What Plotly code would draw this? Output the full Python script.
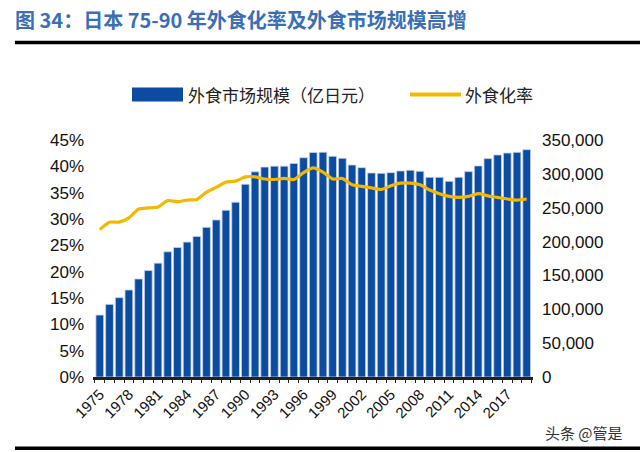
import plotly.graph_objects as go

years = list(range(1975, 2020))
market_size = [91500, 107300, 117200, 128500, 144800, 157200, 168100, 184900, 191300, 199200,
               207600, 221000, 231900, 246200, 258100, 284700, 303000, 310000, 311400, 311400,
               315400, 323800, 331500, 332000, 325900, 323000, 313100, 309200, 301300, 300800,
               301800, 304300, 305300, 303800, 294900, 294900, 289000, 294900, 303300, 311700,
               322500, 327900, 330800, 331800, 335700]
eating_out_rate = [28.0, 29.4, 29.4, 30.2, 31.9, 32.1, 32.3, 33.5, 33.3, 33.6,
                   33.7, 35.1, 36.0, 37.0, 37.2, 38.0, 38.0, 37.6, 37.5, 37.7,
                   37.5, 38.8, 39.7, 38.9, 37.6, 37.7, 36.5, 36.2, 35.9, 35.6,
                   36.3, 36.8, 36.8, 36.5, 35.5, 34.8, 34.3, 34.1, 34.3, 34.8,
                   34.4, 34.1, 33.8, 33.6, 33.8]
tick_years = list(range(1975, 2020, 3))
title_text = "图 34：日本 75-90 年外食化率及外食市场规模高增"
bar_name = "外食市场规模（亿日元）"
line_name = "外食化率"
watermark = "头条 @管是"

BLUE = "#0B4CA1"
GOLD = "#F5B800"

# plot area geometry in px
L, R, T, B = 93, 533, 139.5, 376.7
W, H = 640, 452
pw, ph = R - L, B - T

def px(x):
    return (x - L) / pw

def py(y):
    return (B - y) / ph

fig = go.Figure()
fig.add_trace(go.Bar(x=years, y=market_size, name=bar_name, yaxis="y",
                     marker=dict(color=BLUE, line=dict(color="#C9D6EA", width=0.8)),
                     showlegend=False))
fig.add_trace(go.Scatter(x=years, y=eating_out_rate, name=line_name, yaxis="y2",
                         mode="lines", line=dict(color=GOLD, width=3.2, shape="spline", smoothing=0.6),
                         showlegend=False))

tickfont = dict(family="Liberation Sans, Arial", size=17, color="#111")

fig.update_layout(
    width=W, height=H,
    margin=dict(l=L, r=W - R, t=T, b=H - B),
    paper_bgcolor="white", plot_bgcolor="white",
    bargap=0.2,
    xaxis=dict(range=[1974.3, 2019.65], tickmode="array", tickvals=tick_years,
               ticktext=[str(y) for y in tick_years], tickangle=-45,
               tickfont=dict(family="Liberation Sans, Arial", size=15, color="#111"),
               showgrid=False, showline=True, linecolor="#222", linewidth=2.5,
               ticks="", zeroline=False,
               minor=dict(tickmode="array", tickvals=[y + 0.5 for y in range(1974, 2020)],
                          ticks="outside", ticklen=3, tickcolor="#222", tickwidth=1)),
    yaxis=dict(range=[0, 350000], dtick=50000, tickformat=",", tickfont=tickfont,
               side="right", showgrid=False, zeroline=False,
               showline=False, ticks="", ticklabelstandoff=8),
    yaxis2=dict(range=[0, 45], dtick=5, ticksuffix="%", tickfont=tickfont,
                overlaying="y", side="left",
                showgrid=False, zeroline=False, showline=False, ticks="",
                ticklabelstandoff=8),
    title=dict(text="<b>" + title_text + "</b>", xref="container", yref="container",
               x=15 / W, y=1 - 21 / H, xanchor="left", yanchor="middle",
               font=dict(family="Noto Sans CJK SC, Liberation Sans", size=20, color="#3A6FB6")),
    shapes=[
        dict(type="line", xref="paper", yref="paper", x0=px(15), x1=px(640), y0=py(42), y1=py(42),
             line=dict(color="black", width=3.5)),
        dict(type="line", xref="paper", yref="paper", x0=px(15), x1=px(640), y0=py(448), y1=py(448),
             line=dict(color="black", width=3.5)),
        dict(type="rect", xref="paper", yref="paper", x0=px(132), x1=px(183), y0=py(101), y1=py(87),
             fillcolor=BLUE, line=dict(width=0)),
        dict(type="line", xref="paper", yref="paper", x0=px(410), x1=px(461), y0=py(94), y1=py(94),
             line=dict(color=GOLD, width=4)),
    ],
    annotations=[
        dict(text=bar_name, xref="paper", yref="paper", x=px(186), y=py(94),
             xanchor="left", yanchor="middle", showarrow=False,
             font=dict(family="Noto Sans CJK SC", size=17, color="#222")),
        dict(text=line_name, xref="paper", yref="paper", x=px(463), y=py(94),
             xanchor="left", yanchor="middle", showarrow=False,
             font=dict(family="Noto Sans CJK SC", size=17, color="#222")),
        dict(text=watermark, xref="paper", yref="paper", x=px(625), y=py(432),
             xanchor="right", yanchor="middle", showarrow=False,
             font=dict(family="Noto Sans CJK SC", size=15, color="#333")),
    ],
)

fig.write_html("out.html", config={"displayModeBar": False},
               post_script="document.body.style.margin='0';document.body.style.overflow='hidden';")
